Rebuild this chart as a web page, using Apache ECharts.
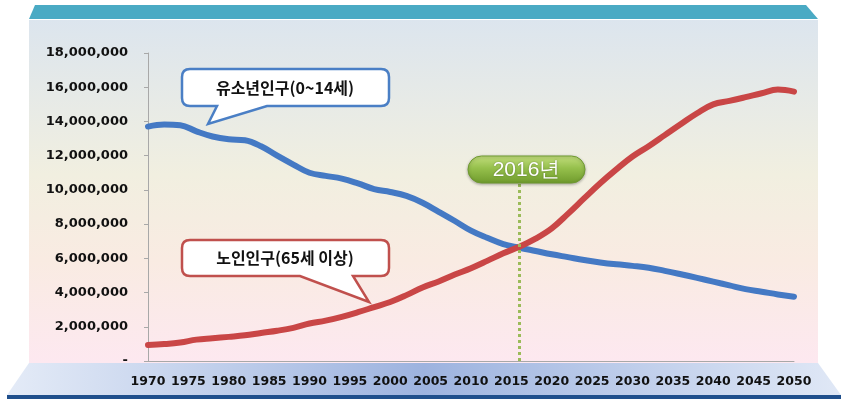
<!DOCTYPE html>
<html>
<head>
<meta charset="utf-8">
<script src="https://cdn.jsdelivr.net/npm/echarts@6/dist/echarts.min.js"></script>
<style>
html,body{margin:0;padding:0;background:#fff;}
#chart{width:856px;height:410px;}
</style>
</head>
<body>
<div id="chart"></div>
<script>
// ---- data (millions of persons) ----
var years = [1970,1972,1974,1976,1978,1980,1982,1984,1986,1988,1990,1992,1994,1996,1998,2000,2002,2004,2006,2008,2010,2012,2014,2016,2018,2020,2022,2024,2026,2028,2030,2032,2034,2036,2038,2040,2042,2044,2046,2048,2050];
var youth = [13.70,13.82,13.78,13.42,13.12,12.96,12.90,12.55,12.00,11.48,11.00,10.82,10.66,10.38,10.05,9.88,9.65,9.25,8.72,8.18,7.62,7.20,6.83,6.62,6.43,6.24,6.07,5.90,5.76,5.65,5.56,5.45,5.27,5.07,4.86,4.64,4.42,4.20,4.05,3.89,3.76];
var elderly = [0.94,0.99,1.08,1.25,1.33,1.41,1.50,1.64,1.77,1.94,2.19,2.36,2.58,2.85,3.15,3.45,3.85,4.30,4.65,5.05,5.42,5.85,6.30,6.68,7.15,7.75,8.60,9.50,10.39,11.20,11.95,12.55,13.20,13.85,14.48,15.00,15.20,15.42,15.65,15.86,15.74];
var yTicks = [0,2000000,4000000,6000000,8000000,10000000,12000000,14000000,16000000,18000000];
var youthLabel = '유소년인구(0~14세)';
var elderlyLabel = '노인인구(65세 이상)';
var markYear = 2016;
var markLabel = '2016년';

function pairs(vals){ return years.map(function(y,i){ return [y, Math.round(vals[i]*1000000)]; }); }

// speech-bubble shape: rounded rect with a tail on the bottom edge
var Callout = echarts.graphic.extendShape({
  shape: { x: 0, y: 0, w: 0, h: 0, r: 0, ta: 0, tx: 0, ty: 0, tb: 0 },
  buildPath: function (ctx, s) {
    var x = s.x, y = s.y, w = s.w, h = s.h, r = s.r;
    ctx.moveTo(x + r, y);
    ctx.lineTo(x + w - r, y);
    ctx.quadraticCurveTo(x + w, y, x + w, y + r);
    ctx.lineTo(x + w, y + h - r);
    ctx.quadraticCurveTo(x + w, y + h, x + w - r, y + h);
    ctx.lineTo(s.ta, y + h);
    ctx.lineTo(s.tx, s.ty);
    ctx.lineTo(s.tb, y + h);
    ctx.lineTo(x + r, y + h);
    ctx.quadraticCurveTo(x, y + h, x, y + h - r);
    ctx.lineTo(x, y + r);
    ctx.quadraticCurveTo(x, y, x + r, y);
    ctx.closePath();
  }
});
echarts.graphic.registerShape('callout', Callout);

var chart = echarts.init(document.getElementById('chart'), null, {renderer:'canvas'});
var KR = '"Noto Sans CJK KR", "Noto Sans", sans-serif';

var option = {
  animation: false,
  backgroundColor: '#ffffff',
  grid: { left: 148, right: 62, top: 53, bottom: 49 },
  xAxis: {
    type: 'value', min: 1970, max: 2050, interval: 5,
    axisLine: { show: true, lineStyle: { color: '#a8a8a8', width: 1 } },
    axisTick: { show: false },
    splitLine: { show: false },
    axisLabel: { margin: 14, color: '#111111', fontWeight: 'bold', fontSize: 12.5, fontFamily: '"DejaVu Sans", sans-serif',
      formatter: function(v){ return String(v); } }
  },
  yAxis: {
    type: 'value', min: yTicks[0], max: yTicks[yTicks.length-1], interval: yTicks[1]-yTicks[0],
    axisLine: { show: true, lineStyle: { color: '#a8a8a8', width: 1 } },
    axisTick: { show: true, length: 4, lineStyle: { color: '#a8a8a8' } },
    splitLine: { show: false },
    axisLabel: { margin: 20, color: '#111111', fontWeight: 'bold', fontSize: 13, fontFamily: '"DejaVu Sans", sans-serif',
      formatter: function(v){ return v === 0 ? '-' : v.toLocaleString('en-US'); } }
  },
  graphic: [
    // top teal band
    { type: 'polygon', z: -10, silent: true, shape: { points: [[35,5],[806,5],[818,19],[29,19]] }, style: { fill: '#4aaac4' } },
    // panel gradient
    { type: 'rect', z: -10, silent: true, shape: { x: 29, y: 20, width: 789, height: 343 },
      style: { fill: new echarts.graphic.LinearGradient(0,0,0,1,[
        {offset:0, color:'#dce5ee'},{offset:0.45, color:'#f1efe0'},{offset:0.7, color:'#f9ebe2'},{offset:1, color:'#fde8f0'}]) } },
    // bottom band
    { type: 'polygon', z: -10, silent: true, shape: { points: [[29,363],[818,363],[841,395],[7,395]] },
      style: { fill: new echarts.graphic.LinearGradient(0,0,1,0,[
        {offset:0, color:'#e4ebf7'},{offset:0.5, color:'#9db3df'},{offset:1, color:'#e0e8f6'}]) } },
    { type: 'rect', z: -10, silent: true, shape: { x: 7, y: 395, width: 834, height: 4 }, style: { fill: '#1f4f8c' } },
    // blue callout
    { type: 'callout', z: 50, silent: true,
      shape: { x: 182, y: 69, w: 207, h: 37, r: 8, ta: 267, tx: 208, ty: 124, tb: 217 },
      style: { fill: '#ffffff', stroke: '#4a7fc5', lineWidth: 2.5 } },
    { type: 'text', z: 51, silent: true, x: 285, y: 88,
      style: { text: youthLabel, fill: '#111111', font: 'bold 16px ' + KR, align: 'center', verticalAlign: 'middle' } },
    // red callout
    { type: 'callout', z: 50, silent: true,
      shape: { x: 182, y: 240, w: 207, h: 36, r: 8, ta: 353, tx: 369, ty: 302, tb: 300 },
      style: { fill: '#ffffff', stroke: '#c0504d', lineWidth: 2.5 } },
    { type: 'text', z: 51, silent: true, x: 285, y: 258,
      style: { text: elderlyLabel, fill: '#111111', font: 'bold 16px ' + KR, align: 'center', verticalAlign: 'middle' } },
    // 2016 pill
    { type: 'rect', z: 50, silent: true, shape: { x: 468, y: 156, width: 117, height: 27, r: 13.5 },
      style: { fill: new echarts.graphic.LinearGradient(0,0,0,1,[
        {offset:0, color:'#c3df7e'},{offset:0.45, color:'#96c04c'},{offset:1, color:'#6f9a2c'}]),
        stroke: '#6f9a30', lineWidth: 1, shadowBlur: 3, shadowColor: 'rgba(0,0,0,0.3)', shadowOffsetY: 1 } },
    { type: 'text', z: 51, silent: true, x: 526.5, y: 170,
      style: { text: markLabel, fill: '#ffffff', font: '21px "Liberation Sans", Arial, sans-serif', align: 'center', verticalAlign: 'middle',
        textShadowColor: 'rgba(0,0,0,0.35)', textShadowBlur: 2 } }
  ],
  series: [
    { name: 'mark', type: 'line', data: [], z: 1, silent: true,
      markLine: { symbol: 'none', silent: true, label: { show: false },
        lineStyle: { color: '#9bbb59', width: 3, type: [3,3] },
        data: [[{ coord: [markYear, 0] }, { coord: [markYear, 10400000] }]] } },
    { name: youthLabel, type: 'line', data: pairs(youth), smooth: 0.4, showSymbol: false, z: 3,
      lineStyle: { color: '#4479c4', width: 6, cap: 'round', join: 'round' } },
    { name: elderlyLabel, type: 'line', data: pairs(elderly), smooth: 0.4, showSymbol: false, z: 3,
      lineStyle: { color: '#c94646', width: 6, cap: 'round', join: 'round' } }
  ]
};
chart.setOption(option);
</script>
</body>
</html>
